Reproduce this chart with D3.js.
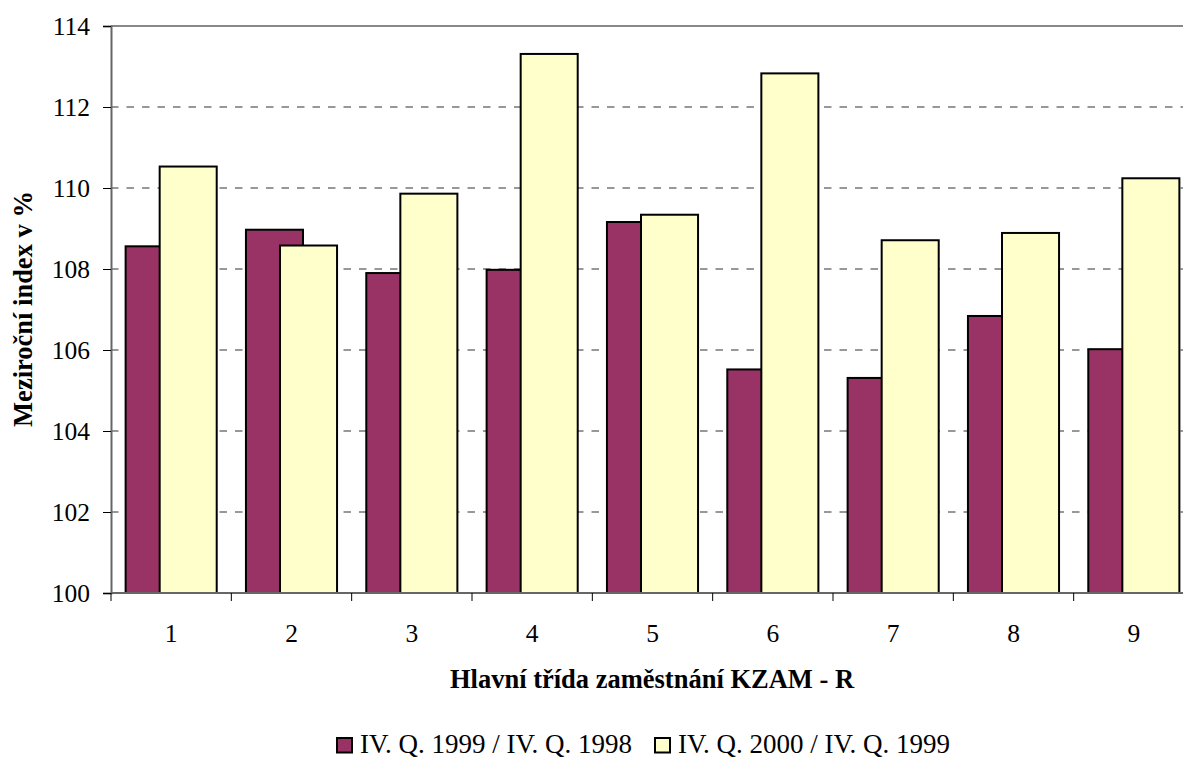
<!DOCTYPE html>
<html><head><meta charset="utf-8">
<script src="https://cdn.jsdelivr.net/npm/d3@7"></script>
<style>
html,body{margin:0;padding:0;background:#fff;}
svg{display:block;}
</style></head>
<body><svg id="chart" width="1183" height="758"></svg>
<script>
const categories = ["1","2","3","4","5","6","7","8","9"];
const seriesNames = ["IV. Q. 1999 / IV. Q. 1998","IV. Q. 2000 / IV. Q. 1999"];
const series1999 = [108.56,108.97,107.90,107.98,109.16,105.52,105.31,106.84,106.02];
const series2000 = [110.53,108.58,109.86,113.31,109.34,112.83,108.71,108.89,110.24];
const yTicks = [100,102,104,106,108,110,112,114];
const colors = ["#993366","#FFFFCC"];
const FONT = "'Liberation Serif'";

const svg = d3.select("#chart");
const L = 111, R = 1194, T = 26, B = 593;

const x = d3.scaleBand().domain(categories).range([L, R]).padding(0);
const y = d3.scaleLinear().domain([100,114]).range([B, T]);

// gridlines
svg.append("g").selectAll("line").data(yTicks.filter(d => d > 100 && d < 114)).join("line")
  .attr("x1", L).attr("x2", R).attr("y1", d => y(d)).attr("y2", d => y(d))
  .attr("stroke", "#333").attr("stroke-width", 1.2).attr("stroke-dasharray", "7.5,8");

// top border
svg.append("line").attr("x1", L).attr("x2", R).attr("y1", T).attr("y2", T)
  .attr("stroke", "#888").attr("stroke-width", 2);

// bars
const bw = x.bandwidth();
const groupW = bw * 0.757, barW = bw * 0.474;
const data = [series1999, series2000];
data.forEach((vals, si) => {
  svg.append("g").selectAll("rect").data(vals).join("rect")
    .attr("x", (d, i) => x(categories[i]) + (bw - groupW) / 2 + si * (groupW - barW))
    .attr("width", barW)
    .attr("y", d => y(d))
    .attr("height", d => y(100) - y(d))
    .attr("fill", colors[si]).attr("stroke", "#000").attr("stroke-width", 2);
});

// y axis
const yAxis = d3.axisLeft(y).tickValues(yTicks).tickSize(8).tickPadding(13).tickFormat(d3.format("d"));
const gy = svg.append("g").attr("transform", `translate(${L},0)`).call(yAxis)
  .attr("font-family", null).attr("font-size", null);
gy.select(".domain").attr("stroke", "#666").attr("stroke-width", 2);
gy.selectAll(".tick line").attr("stroke", "#000");
gy.selectAll("text").attr("fill", "#000").style("font-family", FONT).style("font-size", "25.5px");

// x axis: ticks at category boundaries
const gx = svg.append("g").attr("transform", `translate(0,${B})`);
gx.append("line").attr("x1", L).attr("x2", R).attr("stroke", "#666").attr("stroke-width", 2);
const bounds = categories.map(c => x(c)).concat([x(categories[categories.length-1]) + bw]);
gx.selectAll(".bt").data(bounds).join("line").attr("class","bt")
  .attr("x1", d => d).attr("x2", d => d).attr("y1", 0).attr("y2", 8).attr("stroke", "#000");
gx.selectAll("text").data(categories).join("text")
  .attr("x", d => x(d) + bw / 2).attr("y", 49).attr("text-anchor", "middle")
  .style("font-family", FONT).style("font-size", "25.5px").text(d => d);

// axis titles
svg.append("text").attr("transform", "translate(32,309) rotate(-90)")
  .attr("text-anchor", "middle").style("font-family", FONT).style("font-weight", "bold").style("font-size", "26.5px")
  .text("Meziroční index v %");
svg.append("text").attr("x", 652).attr("y", 688).attr("text-anchor", "middle")
  .style("font-family", FONT).style("font-weight", "bold").style("font-size", "26.5px")
  .text("Hlavní třída zaměstnání KZAM - R");

// legend
const legX = [336, 654];
seriesNames.forEach((n, i) => {
  svg.append("rect").attr("x", legX[i] + 1).attr("y", 738).attr("width", 15).attr("height", 14.5)
    .attr("fill", colors[i]).attr("stroke", "#000").attr("stroke-width", 2);
  svg.append("text").attr("x", legX[i] + 24).attr("y", 753)
    .style("font-family", FONT).style("font-size", "27px").text(n);
});
</script></body></html>
